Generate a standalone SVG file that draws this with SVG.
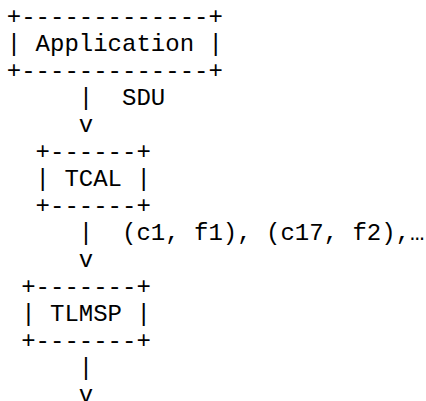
<svg xmlns="http://www.w3.org/2000/svg" width="426" height="401" viewBox="0 0 426 401">
<style>
text { font-family: "Liberation Mono", "Courier New", monospace; font-size: 24px; fill: #000; white-space: pre; }
</style>
<rect width="426" height="401" fill="#fff"/>
<g id="application">
<text x="6.8" y="24" xml:space="preserve">+-------------+</text>
<text x="6.8" y="51" xml:space="preserve">| Application |</text>
<text x="6.8" y="78" xml:space="preserve">+-------------+</text>
</g>
<g id="tcal">
<text x="35.6" y="159" xml:space="preserve">+------+</text>
<text x="35.6" y="186" xml:space="preserve">| TCAL |</text>
<text x="35.6" y="213" xml:space="preserve">+------+</text>
</g>
<g id="tlmsp">
<text x="21.2" y="294" xml:space="preserve">+-------+</text>
<text x="21.2" y="321" xml:space="preserve">| TLMSP |</text>
<text x="21.2" y="348" xml:space="preserve">+-------+</text>
</g>
<g id="connectors">
<text x="78.8" y="105" xml:space="preserve">|  SDU</text>
<text x="78.8" y="132" xml:space="preserve">v</text>
<text x="78.8" y="240" xml:space="preserve">|  (c1, f1), (c17, f2),…</text>
<text x="78.8" y="267" xml:space="preserve">v</text>
<text x="78.8" y="375" xml:space="preserve">|</text>
<text x="78.8" y="402" xml:space="preserve">v</text>
</g>
</svg>
